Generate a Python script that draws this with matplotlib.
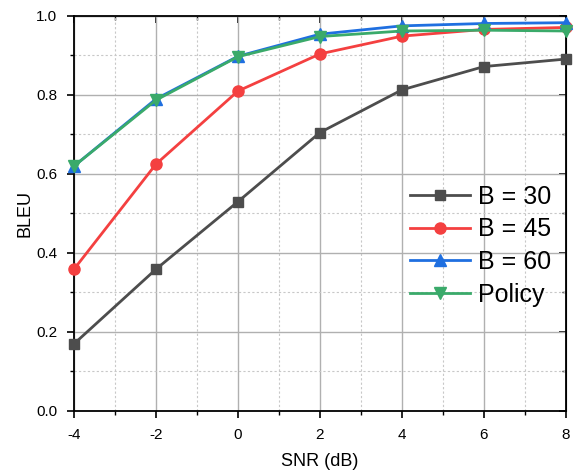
import matplotlib
matplotlib.use("Agg")
import matplotlib.pyplot as plt
from matplotlib.ticker import MultipleLocator, FormatStrFormatter

plt.rcParams['font.family'] = ['Liberation Sans', 'DejaVu Sans']
plt.rcParams['axes.unicode_minus'] = False

snr = [-4, -2, 0, 2, 4, 6, 8]
bleu_b30 = [0.170, 0.359, 0.530, 0.705, 0.813, 0.872, 0.891]
bleu_b45 = [0.359, 0.625, 0.810, 0.904, 0.949, 0.966, 0.971]
bleu_b60 = [0.620, 0.790, 0.898, 0.954, 0.975, 0.981, 0.983]
bleu_policy = [0.620, 0.787, 0.897, 0.948, 0.962, 0.964, 0.962]
labels = ["B = 30", "B = 45", "B = 60", "Policy"]

fig = plt.figure(figsize=(5.76, 4.76), dpi=100)
ax = fig.add_axes([0.1285, 0.1366, 0.854, 0.8298])

ax.plot(snr, bleu_b30, color="#4d4d4d", marker="s", ms=7, lw=2, label=labels[0], zorder=3, clip_on=False)
ax.plot(snr, bleu_b45, color="#f44040", marker="o", ms=8, lw=2, label=labels[1], zorder=3, clip_on=False)
ax.plot(snr, bleu_b60, color="#1f6fe0", marker="^", ms=8, lw=2, label=labels[2], zorder=3, clip_on=False)
ax.plot(snr, bleu_policy, color="#3aaa6a", marker="v", ms=8, lw=2, label=labels[3], zorder=4, clip_on=False)

ax.set_xlim(-4, 8)
ax.set_ylim(0, 1)
ax.xaxis.set_major_locator(MultipleLocator(2))
ax.xaxis.set_minor_locator(MultipleLocator(1))
ax.yaxis.set_major_locator(MultipleLocator(0.2))
ax.yaxis.set_minor_locator(MultipleLocator(0.1))
ax.yaxis.set_major_formatter(FormatStrFormatter("%.1f"))

ax.grid(which="major", color="#b0b0b0", lw=1, ls="-", zorder=0)
ax.grid(which="minor", color="#c8c8c8", lw=0.8, ls=(0, (2, 2)), zorder=0)
ax.set_axisbelow(True)

ax.tick_params(which="both", direction="out", labelsize=11, pad=7)
ax.tick_params(which="major", length=5, width=1.2)
ax.tick_params(which="minor", length=3, width=1)
for sp in ax.spines.values():
    sp.set_linewidth(1.3)

# inward ticks on top and right
sx = ax.secondary_xaxis("top")
sx.xaxis.set_major_locator(MultipleLocator(2))
sx.xaxis.set_minor_locator(MultipleLocator(1))
sx.tick_params(which="both", direction="in", labeltop=False)
sy = ax.secondary_yaxis("right")
sy.yaxis.set_major_locator(MultipleLocator(0.2))
sy.yaxis.set_minor_locator(MultipleLocator(0.1))
sy.tick_params(which="both", direction="in", labelright=False)
for s in (sx, sy):
    s.tick_params(which="major", length=5, width=1.2)
    s.tick_params(which="minor", length=3, width=1)

ax.set_xlabel("SNR (dB)", fontsize=13, labelpad=8)
ax.set_ylabel("BLEU", fontsize=13, labelpad=2)

ax.legend(loc="center right", bbox_to_anchor=(1.0, 0.418), frameon=False, fontsize=18,
          handlelength=2.4, handletextpad=0.3, labelspacing=0.35, borderaxespad=0.2)

fig.savefig("out.png", dpi=100)
